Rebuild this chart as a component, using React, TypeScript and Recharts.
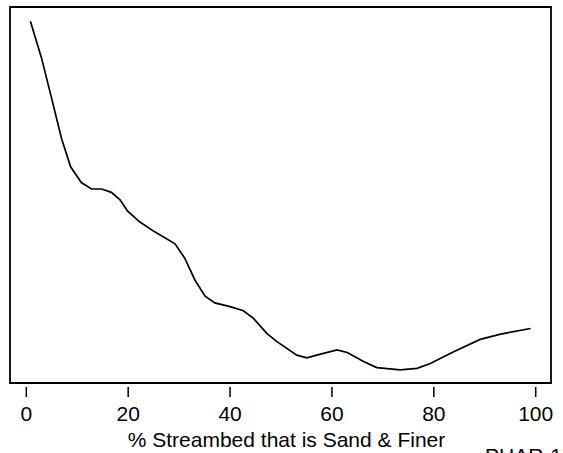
import React from 'react';
import { LineChart, Line, XAxis, YAxis, ReferenceArea, Label } from 'recharts';

// % of streambed that is sand & finer
const sandPct = [
  0.8, 3.0, 4.9, 6.9, 8.7, 10.8, 12.8, 14.8, 16.7, 18.4, 19.9, 22.3, 25.2, 29.2, 31.1, 33.1,
  35.1, 37.0, 40.0, 42.6, 44.6, 47.2, 49.2, 53.1, 55.1, 57.0, 61.0, 63.0, 66.2, 68.8, 73.4,
  76.7, 79.3, 83.9, 89.1, 93.1, 99.0,
];
// response (no axis labels on the original, relative units 0-100)
const response = [
  96.2, 86.4, 76.1, 65.1, 57.5, 53.3, 51.6, 51.6, 50.7, 48.7, 45.7, 42.8, 40.2, 37.0, 33.2, 27.4,
  23.1, 21.3, 20.3, 19.2, 17.2, 13.2, 11.0, 7.4, 6.7, 7.4, 8.8, 8.1, 5.7, 4.1, 3.5,
  3.9, 5.2, 8.3, 11.6, 13.0, 14.5,
];
const xTicks = [0, 20, 40, 60, 80, 100];
const xDomain = [-3.2, 103];
const yDomain = [0, 100];

const data = sandPct.map((x, i) => ({ x, y: response[i] }));

const font = 'Liberation Sans, Arial, sans-serif';

const Tick = (props: any) => {
  const { x, y, payload } = props;
  return (
    <g>
      <line x1={x} y1={y + 4} x2={x} y2={y + 14} stroke="#000" strokeWidth={1.5} />
      <text x={x} y={y + 38} textAnchor="middle" fontSize={21} fontFamily={font} fill="#000">
        {payload.value}
      </text>
    </g>
  );
};

export default function App() {
  return (
    <div style={{ position: 'absolute', left: 0, top: 0, background: '#fff' }}>
      <LineChart width={563} height={453} data={data} margin={{ top: 7, right: 12, left: 10, bottom: 0 }}>
        <XAxis
          dataKey="x"
          type="number"
          domain={xDomain}
          ticks={xTicks}
          allowDataOverflow
          axisLine={false}
          tickLine={false}
          tickSize={0}
          tickMargin={0}
          height={70}
          tick={<Tick />}
          interval={0}
        >
          <Label
            value="% Streambed that is Sand & Finer"
            position="insideBottom"
            offset={6}
            dx={6}
            style={{ fontSize: 21, fontFamily: font, fill: '#000' }}
          />
          <Label
            content={() => (
              <text x={485} y={463} fontSize={21} fontFamily={font} fill="#000">
                PUAR-17
              </text>
            )}
          />
        </XAxis>
        <YAxis type="number" domain={yDomain} hide allowDataOverflow />
        <ReferenceArea
          x1={xDomain[0]}
          x2={xDomain[1]}
          y1={yDomain[0]}
          y2={yDomain[1]}
          fill="none"
          fillOpacity={0}
          stroke="#000"
          strokeWidth={1.8}
          ifOverflow="visible"
        />
        <Line
          type="linear"
          dataKey="y"
          stroke="#000"
          strokeWidth={1.7}
          dot={false}
          isAnimationActive={false}
        />
      </LineChart>
    </div>
  );
}
